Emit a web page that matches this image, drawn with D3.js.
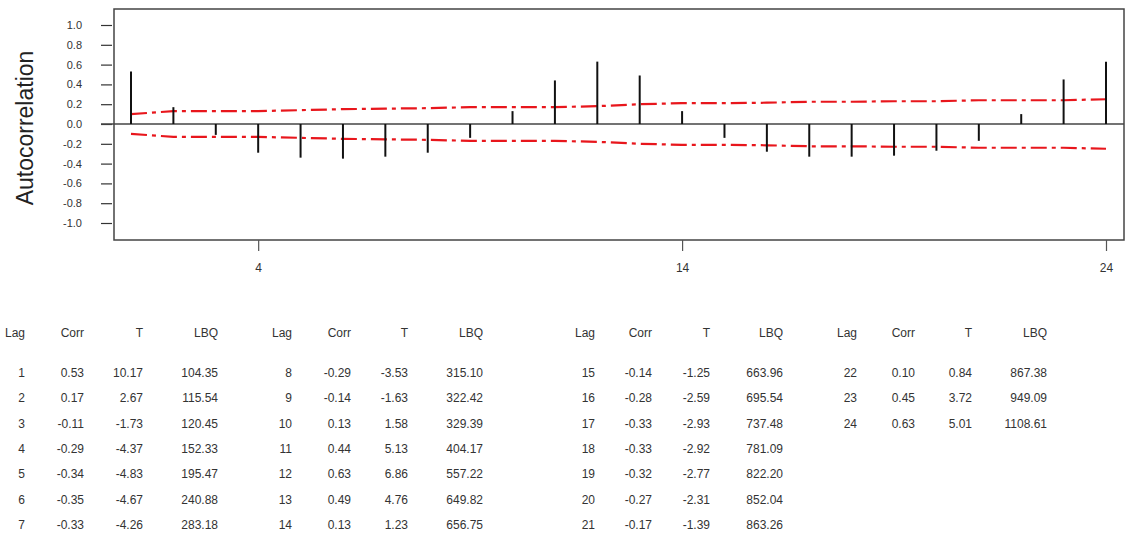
<!DOCTYPE html>
<html lang="en">
<head>
    <meta charset="UTF-8">
    <script src="https://d3js.org/d3.v7.min.js"></script>
    <title>Autocorrelation Function</title>
    <style>
        body { margin: 0; background: white; }
        text { font-family: "Liberation Sans", Arial, sans-serif; }
    </style>
</head>
<body>
<script>
    // data
    const lags = [1, 2, 3, 4, 5, 6, 7, 8, 9, 10, 11, 12, 13, 14, 15, 16, 17, 18, 19, 20, 21, 22, 23, 24];
    const corr = [0.53, 0.17, -0.11, -0.29, -0.34, -0.35, -0.33, -0.29, -0.14, 0.13, 0.44, 0.63,
                  0.49, 0.13, -0.14, -0.28, -0.33, -0.33, -0.32, -0.27, -0.17, 0.10, 0.45, 0.63];
    const tStat = ["10.17", "2.67", "-1.73", "-4.37", "-4.83", "-4.67", "-4.26", "-3.53", "-1.63", "1.58", "5.13", "6.86",
                   "4.76", "1.23", "-1.25", "-2.59", "-2.93", "-2.92", "-2.77", "-2.31", "-1.39", "0.84", "3.72", "5.01"];
    const lbq = ["104.35", "115.54", "120.45", "152.33", "195.47", "240.88", "283.18", "315.10", "322.42", "329.39", "404.17", "557.22",
                 "649.82", "656.75", "663.96", "695.54", "737.48", "781.09", "822.20", "852.04", "863.26", "867.38", "949.09", "1108.61"];
    // 5% significance limits
    const limits = [0.10, 0.13, 0.13, 0.13, 0.14, 0.15, 0.155, 0.16, 0.17, 0.17, 0.17, 0.18,
                    0.20, 0.21, 0.21, 0.215, 0.225, 0.225, 0.23, 0.23, 0.24, 0.24, 0.24, 0.25];
    const yTicks = [-1.0, -0.8, -0.6, -0.4, -0.2, 0.0, 0.2, 0.4, 0.6, 0.8, 1.0];
    const xTicks = [4, 14, 24];
    const headers = ["Lag", "Corr", "T", "LBQ"];

    const w = 1128;
    const h = 533;
    const frame = { left: 114, right: 1124, top: 9, bottom: 240 };

    const svg = d3.select("body")
        .append("svg")
        .attr("width", w)
        .attr("height", h);

    const xScale = d3.scaleLinear().domain([1, 24]).range([131, 1106]);
    const yScale = d3.scaleLinear().domain([-1, 1]).range([223, 25]);

    // frame
    svg.append("rect")
        .attr("x", frame.left)
        .attr("y", frame.top)
        .attr("width", frame.right - frame.left)
        .attr("height", frame.bottom - frame.top)
        .attr("fill", "none")
        .attr("stroke", "#444")
        .attr("stroke-width", 1.5);

    // y axis
    const yAxis = svg.append("g")
        .attr("transform", "translate(112,0)")
        .call(d3.axisLeft(yScale).tickValues(yTicks).tickSize(11).tickSizeOuter(0).tickPadding(19)
            .tickFormat(d => d.toFixed(1)));
    yAxis.select(".domain").remove();
    yAxis.selectAll("line").attr("stroke", "#333").attr("stroke-width", 1.2);
    yAxis.selectAll("text").style("font-size", "11px").attr("fill", "#333")
        .style("font-family", "'Liberation Sans', Arial, sans-serif");

    // x axis
    const xAxis = svg.append("g")
        .attr("transform", "translate(0," + frame.bottom + ")")
        .call(d3.axisBottom(xScale).tickValues(xTicks).tickSize(11).tickSizeOuter(0).tickPadding(12));
    xAxis.select(".domain").remove();
    xAxis.selectAll("line").attr("stroke", "#555").attr("stroke-width", 1.2);
    xAxis.selectAll("text").style("font-size", "12px").attr("fill", "#333")
        .style("font-family", "'Liberation Sans', Arial, sans-serif");

    // zero line
    svg.append("line")
        .attr("x1", 101)
        .attr("x2", frame.right)
        .attr("y1", yScale(0))
        .attr("y2", yScale(0))
        .attr("stroke", "#444")
        .attr("stroke-width", 1.5);

    // axis title
    svg.append("text")
        .attr("transform", "translate(33,128) rotate(-90)")
        .attr("text-anchor", "middle")
        .style("font-size", "23px")
        .attr("fill", "#222")
        .text("Autocorrelation");

    // significance limits
    const limitData = lags.map((d, i) => ({ lag: d, v: limits[i] }));
    [1, -1].forEach(sign => {
        svg.append("path")
            .datum(limitData)
            .attr("fill", "none")
            .attr("stroke", "#e8161c")
            .attr("stroke-width", 2.2)
            .attr("stroke-dasharray", "16,5,4,5")
            .attr("d", d3.line().x(d => xScale(d.lag)).y(d => yScale(sign * d.v)));
    });

    // bars
    svg.selectAll(".bar")
        .data(lags)
        .enter()
        .append("line")
        .attr("class", "bar")
        .attr("x1", d => xScale(d))
        .attr("x2", d => xScale(d))
        .attr("y1", yScale(0))
        .attr("y2", (d, i) => yScale(corr[i]))
        .attr("stroke", "#111")
        .attr("stroke-width", 2);

    // table
    const groupCols = [
        [25, 84, 143, 218],
        [292, 351, 408, 483],
        [595, 652, 710, 783],
        [857, 915, 972, 1047]
    ];
    const headerY = 337;
    const rowY0 = 377;
    const rowStep = 25.3;

    const table = svg.append("g")
        .style("font-size", "12px")
        .attr("fill", "#333")
        .attr("text-anchor", "end");

    groupCols.forEach((cols, g) => {
        headers.forEach((hd, c) => {
            table.append("text").attr("x", cols[c]).attr("y", headerY).text(hd);
        });
        const rows = lags.slice(g * 7, g * 7 + 7);
        rows.forEach((lag, r) => {
            const i = lag - 1;
            const vals = [String(lag), corr[i].toFixed(2), tStat[i], lbq[i]];
            vals.forEach((v, c) => {
                table.append("text")
                    .attr("x", cols[c])
                    .attr("y", rowY0 + r * rowStep)
                    .text(v);
            });
        });
    });
</script>
</body>
</html>
